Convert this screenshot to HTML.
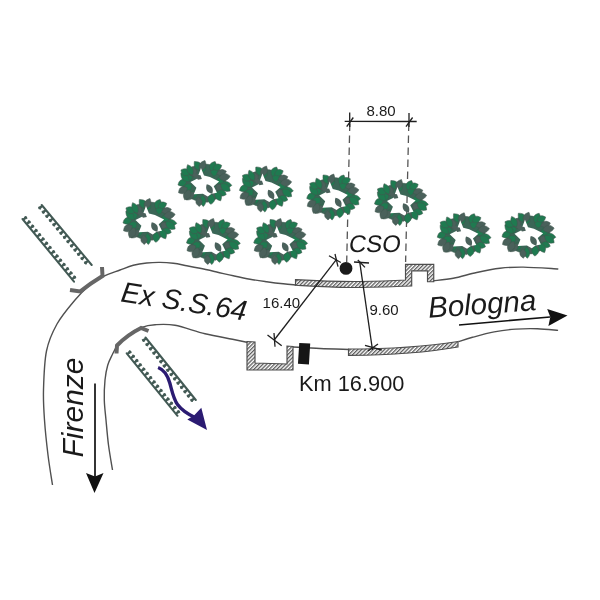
<!DOCTYPE html>
<html><head><meta charset="utf-8">
<style>
html,body{margin:0;padding:0;background:#fff;}
body{width:600px;height:600px;overflow:hidden;position:relative;}
svg{position:absolute;left:0;top:0;will-change:transform;}
text{font-family:"Liberation Sans", sans-serif;}
</style></head>
<body>
<svg width="600" height="600" viewBox="0 0 600 600">
<defs>
<pattern id="hatch" patternUnits="userSpaceOnUse" width="2.7" height="2.7" patternTransform="rotate(45)">
<rect width="2.7" height="2.7" fill="#fff"/>
<rect x="0" y="0" width="1.3" height="2.7" fill="#5c5c5c"/>
</pattern>
<mask id="treemask" maskUnits="userSpaceOnUse" x="-40" y="-40" width="80" height="80"><rect x="-40" y="-40" width="80" height="80" fill="#fff"/><path d="M-3.02,-15.12 L0,-7.56 L5.94,-5.94 L15.12,-1.62 L9.72,3.24 L12.96,9.72 L7.56,10.8 L3.78,13.5 L-1.08,10.8 L-10.26,11.34 L-7.56,4.86 L-13.5,-1.08 L-7.02,-4.32 Z" fill="#000"/></mask>

</defs>

<!-- road lines -->
<g fill="none" stroke="#505050" stroke-width="1.4">
<path d="M52.5,485 C51.75,480 49.33,465.83 48,455 C46.67,444.17 45.25,430.83 44.5,420 C43.75,409.17 43.17,401.5 43.5,390 C43.83,378.5 44.25,362 46.5,351 C48.75,340 52.25,332.5 57,324 C61.75,315.5 69.5,306.5 75,300 C80.5,293.5 85.33,288.92 90,285 C94.67,281.08 98,279 103,276.5 C108,274 114.95,271.87 120,270 C125.05,268.13 128.85,266.47 133.3,265.3 C137.75,264.13 142.25,263.48 146.7,263 C151.15,262.52 155.57,262.35 160,262.4 C164.43,262.45 168.85,262.75 173.3,263.3 C177.75,263.85 182.25,264.87 186.7,265.7 C191.15,266.53 195,267.25 200,268.3 C205,269.35 211.15,270.75 216.7,272 C222.25,273.25 227.75,274.6 233.3,275.8 C238.85,277 244.43,278.22 250,279.2 C255.57,280.18 261.15,280.93 266.7,281.7 C272.25,282.47 278.42,283.25 283.3,283.8 C288.18,284.35 293.88,284.8 296,285"/>
<path d="M433.5,280.7 C436.8,280.3 446.1,279.67 453.3,278.3 C460.5,276.93 468.92,274.17 476.7,272.5 C484.48,270.83 492.23,269.2 500,268.3 C507.77,267.4 513.58,266.98 523.3,267.1 C533.02,267.22 552.47,268.68 558.3,269"/>
<path d="M112.5,470 C111.83,465.83 109.58,453.33 108.5,445 C107.42,436.67 106.7,427.5 106,420 C105.3,412.5 104.47,406.67 104.3,400 C104.13,393.33 104.43,385.78 105,380 C105.57,374.22 106.48,369.52 107.7,365.3 C108.92,361.08 110.63,358.03 112.3,354.7 C113.97,351.37 115.03,348.63 117.7,345.3 C120.37,341.97 124.3,337.7 128.3,334.7 C132.3,331.7 137.25,328.97 141.7,327.3 C146.15,325.63 149.45,325.03 155,324.7 C160.55,324.37 166.67,323.78 175,325.3 C183.33,326.82 195.42,331.47 205,333.8 C214.58,336.13 225.33,337.85 232.5,339.3 C239.67,340.75 245.42,341.97 248,342.5"/>
<path d="M293,347 C297.5,347.25 310.67,348.08 320,348.5 C329.33,348.92 344.17,349.33 349,349.5"/>
<path d="M458.4,341.7 C460.75,340.97 466.53,338.93 472.5,337.3 C478.47,335.67 486.98,333.27 494.2,331.9 C501.42,330.53 508.58,329.63 515.8,329.1 C523.02,328.57 530.45,328.48 537.5,328.7 C544.55,328.92 554.67,330.12 558.1,330.4"/>
</g>

<!-- dashed dimension lines -->
<g stroke="#555" stroke-width="1.3" stroke-dasharray="7.5,4.5" fill="none">
<path d="M349.8,123.5 L346.7,262"/>
<path d="M408.8,123.5 L405.6,262"/>
</g>

<!-- trees -->
<g transform="translate(149 221)">
<g mask="url(#treemask)" stroke="#42584f" stroke-width="0.5" stroke-linejoin="round"><ellipse rx="22" ry="19" fill="#3a6656"/><path fill="#4a615b" transform="translate(16.01 5.01) rotate(39.46)" d="M-5,0 C-1.67,-5.04 1.67,-5.04 5,0 C1.67,5.04 -1.67,5.04 -5,0 Z"/><path fill="#4a615b" transform="translate(8.11 12.82) rotate(80.8)" d="M-5,0 C-1.67,-5.04 1.67,-5.04 5,0 C1.67,5.04 -1.67,5.04 -5,0 Z"/><path fill="#4a615b" transform="translate(2.4 14.42) rotate(79.15)" d="M-5,0 C-1.67,-5.04 1.67,-5.04 5,0 C1.67,5.04 -1.67,5.04 -5,0 Z"/><path fill="#1f7a50" transform="translate(-10.63 11.39) rotate(160.63)" d="M-5,0 C-1.67,-5.04 1.67,-5.04 5,0 C1.67,5.04 -1.67,5.04 -5,0 Z"/><path fill="#1f7a50" transform="translate(-16.17 4.63) rotate(141.19)" d="M-5,0 C-1.67,-5.04 1.67,-5.04 5,0 C1.67,5.04 -1.67,5.04 -5,0 Z"/><path fill="#1f7a50" transform="translate(-16.09 -4.81) rotate(160.32)" d="M-5,0 C-1.67,-5.04 1.67,-5.04 5,0 C1.67,5.04 -1.67,5.04 -5,0 Z"/><path fill="#4a615b" transform="translate(-10.91 -11.2) rotate(263.52)" d="M-5,0 C-1.67,-5.04 1.67,-5.04 5,0 C1.67,5.04 -1.67,5.04 -5,0 Z"/><path fill="#1f7a50" transform="translate(-1.74 -14.49) rotate(287.92)" d="M-5,0 C-1.67,-5.04 1.67,-5.04 5,0 C1.67,5.04 -1.67,5.04 -5,0 Z"/><path fill="#1f7a50" transform="translate(10.5 -11.48) rotate(278.15)" d="M-5,0 C-1.67,-5.04 1.67,-5.04 5,0 C1.67,5.04 -1.67,5.04 -5,0 Z"/><path fill="#1f7a50" transform="translate(16.7 -2.93) rotate(325.14)" d="M-5,0 C-1.67,-5.04 1.67,-5.04 5,0 C1.67,5.04 -1.67,5.04 -5,0 Z"/><path fill="#1f7a50" transform="translate(22.06 1.74) rotate(7.08)" d="M-5.81,0 C-1.94,-4.27 1.94,-4.27 5.81,0 C1.94,4.27 -1.94,4.27 -5.81,0 Z"/><path fill="#1f7a50" transform="translate(21.36 4.54) rotate(36.19)" d="M-5.91,0 C-1.97,-4.71 1.97,-4.71 5.91,0 C1.97,4.71 -1.97,4.71 -5.91,0 Z"/><path fill="#1f7a50" transform="translate(17.74 9.99) rotate(18.42)" d="M-4.75,0 C-1.58,-4.12 1.58,-4.12 4.75,0 C1.58,4.12 -1.58,4.12 -4.75,0 Z"/><path fill="#1f7a50" transform="translate(14.1 12.93) rotate(62.92)" d="M-5.52,0 C-1.84,-4.32 1.84,-4.32 5.52,0 C1.84,4.32 -1.84,4.32 -5.52,0 Z"/><path fill="#1f7a50" transform="translate(7.23 16.15) rotate(95.31)" d="M-5.22,0 C-1.74,-4.72 1.74,-4.72 5.22,0 C1.74,4.72 -1.74,4.72 -5.22,0 Z"/><path fill="#1f7a50" transform="translate(-1.09 17.83) rotate(85.32)" d="M-5.77,0 C-1.92,-3.98 1.92,-3.98 5.77,0 C1.92,3.98 -1.92,3.98 -5.77,0 Z"/><path fill="#4a615b" transform="translate(-5.01 18.88) rotate(86.19)" d="M-4.57,0 C-1.52,-4.16 1.52,-4.16 4.57,0 C1.52,4.16 -1.52,4.16 -4.57,0 Z"/><path fill="#4a615b" transform="translate(-13.69 12.84) rotate(136.89)" d="M-5.91,0 C-1.97,-4.33 1.97,-4.33 5.91,0 C1.97,4.33 -1.97,4.33 -5.91,0 Z"/><path fill="#4a615b" transform="translate(-16.85 11.76) rotate(116.08)" d="M-5.62,0 C-1.87,-4.82 1.87,-4.82 5.62,0 C1.87,4.82 -1.87,4.82 -5.62,0 Z"/><path fill="#4a615b" transform="translate(-21.11 7.26) rotate(150.74)" d="M-5.01,0 C-1.67,-4.62 1.67,-4.62 5.01,0 C1.67,4.62 -1.67,4.62 -5.01,0 Z"/><path fill="#1f7a50" transform="translate(-21.5 -0.16) rotate(-204.87)" d="M-4.97,0 C-1.66,-4.3 1.66,-4.3 4.97,0 C1.66,4.3 -1.66,4.3 -4.97,0 Z"/><path fill="#1f7a50" transform="translate(-18.98 -5.66) rotate(-133.37)" d="M-6,0 C-2,-4.13 2,-4.13 6,0 C2,4.13 -2,4.13 -6,0 Z"/><path fill="#1f7a50" transform="translate(-18.74 -10.78) rotate(-151.84)" d="M-4.86,0 C-1.62,-4.6 1.62,-4.6 4.86,0 C1.62,4.6 -1.62,4.6 -4.86,0 Z"/><path fill="#1f7a50" transform="translate(-13.93 -13.01) rotate(-115.28)" d="M-5.87,0 C-1.96,-4 1.96,-4 5.87,0 C1.96,4 -1.96,4 -5.87,0 Z"/><path fill="#1f7a50" transform="translate(-5.75 -17.07) rotate(-131.41)" d="M-5.92,0 C-1.97,-4.64 1.97,-4.64 5.92,0 C1.97,4.64 -1.97,4.64 -5.92,0 Z"/><path fill="#4a615b" transform="translate(-1.49 -17.26) rotate(-64.74)" d="M-5.77,0 C-1.92,-4.28 1.92,-4.28 5.77,0 C1.92,4.28 -1.92,4.28 -5.77,0 Z"/><path fill="#1f7a50" transform="translate(8.9 -16.83) rotate(-64.34)" d="M-5.18,0 C-1.73,-4.49 1.73,-4.49 5.18,0 C1.73,4.49 -1.73,4.49 -5.18,0 Z"/><path fill="#1f7a50" transform="translate(13.33 -15.77) rotate(-23.19)" d="M-4.72,0 C-1.57,-4.37 1.57,-4.37 4.72,0 C1.57,4.37 -1.57,4.37 -4.72,0 Z"/><path fill="#4a615b" transform="translate(17.51 -10.44) rotate(-14.92)" d="M-5.01,0 C-1.67,-4.06 1.67,-4.06 5.01,0 C1.67,4.06 -1.67,4.06 -5.01,0 Z"/><path fill="#4a615b" transform="translate(20.52 -5.96) rotate(-7.07)" d="M-5.68,0 C-1.89,-4.8 1.89,-4.8 5.68,0 C1.89,4.8 -1.89,4.8 -5.68,0 Z"/></g>
<path fill="#4a615b" transform="translate(-6.5 -6.5) rotate(30)" d="M-5,0 L-2,-2.5 L0,-1.8 L2,-2.5 L5,0 L2,2.5 L0,1.8 L-2,2.5 Z"/>
<path fill="#4a615b" transform="translate(5.5 6) rotate(60)" d="M-5.5,0 C-2,-4 2,-4 5.5,0 C2,4 -2,4 -5.5,0 Z"/>
</g>
<g transform="translate(204 183)">
<g mask="url(#treemask)" stroke="#42584f" stroke-width="0.5" stroke-linejoin="round"><ellipse rx="22" ry="19" fill="#3a6656"/><path fill="#4a615b" transform="translate(16.01 5.01) rotate(39.46)" d="M-5,0 C-1.67,-5.04 1.67,-5.04 5,0 C1.67,5.04 -1.67,5.04 -5,0 Z"/><path fill="#4a615b" transform="translate(8.11 12.82) rotate(80.8)" d="M-5,0 C-1.67,-5.04 1.67,-5.04 5,0 C1.67,5.04 -1.67,5.04 -5,0 Z"/><path fill="#4a615b" transform="translate(2.4 14.42) rotate(79.15)" d="M-5,0 C-1.67,-5.04 1.67,-5.04 5,0 C1.67,5.04 -1.67,5.04 -5,0 Z"/><path fill="#1f7a50" transform="translate(-10.63 11.39) rotate(160.63)" d="M-5,0 C-1.67,-5.04 1.67,-5.04 5,0 C1.67,5.04 -1.67,5.04 -5,0 Z"/><path fill="#1f7a50" transform="translate(-16.17 4.63) rotate(141.19)" d="M-5,0 C-1.67,-5.04 1.67,-5.04 5,0 C1.67,5.04 -1.67,5.04 -5,0 Z"/><path fill="#1f7a50" transform="translate(-16.09 -4.81) rotate(160.32)" d="M-5,0 C-1.67,-5.04 1.67,-5.04 5,0 C1.67,5.04 -1.67,5.04 -5,0 Z"/><path fill="#4a615b" transform="translate(-10.91 -11.2) rotate(263.52)" d="M-5,0 C-1.67,-5.04 1.67,-5.04 5,0 C1.67,5.04 -1.67,5.04 -5,0 Z"/><path fill="#1f7a50" transform="translate(-1.74 -14.49) rotate(287.92)" d="M-5,0 C-1.67,-5.04 1.67,-5.04 5,0 C1.67,5.04 -1.67,5.04 -5,0 Z"/><path fill="#1f7a50" transform="translate(10.5 -11.48) rotate(278.15)" d="M-5,0 C-1.67,-5.04 1.67,-5.04 5,0 C1.67,5.04 -1.67,5.04 -5,0 Z"/><path fill="#1f7a50" transform="translate(16.7 -2.93) rotate(325.14)" d="M-5,0 C-1.67,-5.04 1.67,-5.04 5,0 C1.67,5.04 -1.67,5.04 -5,0 Z"/><path fill="#1f7a50" transform="translate(22.06 1.74) rotate(7.08)" d="M-5.81,0 C-1.94,-4.27 1.94,-4.27 5.81,0 C1.94,4.27 -1.94,4.27 -5.81,0 Z"/><path fill="#1f7a50" transform="translate(21.36 4.54) rotate(36.19)" d="M-5.91,0 C-1.97,-4.71 1.97,-4.71 5.91,0 C1.97,4.71 -1.97,4.71 -5.91,0 Z"/><path fill="#1f7a50" transform="translate(17.74 9.99) rotate(18.42)" d="M-4.75,0 C-1.58,-4.12 1.58,-4.12 4.75,0 C1.58,4.12 -1.58,4.12 -4.75,0 Z"/><path fill="#1f7a50" transform="translate(14.1 12.93) rotate(62.92)" d="M-5.52,0 C-1.84,-4.32 1.84,-4.32 5.52,0 C1.84,4.32 -1.84,4.32 -5.52,0 Z"/><path fill="#1f7a50" transform="translate(7.23 16.15) rotate(95.31)" d="M-5.22,0 C-1.74,-4.72 1.74,-4.72 5.22,0 C1.74,4.72 -1.74,4.72 -5.22,0 Z"/><path fill="#1f7a50" transform="translate(-1.09 17.83) rotate(85.32)" d="M-5.77,0 C-1.92,-3.98 1.92,-3.98 5.77,0 C1.92,3.98 -1.92,3.98 -5.77,0 Z"/><path fill="#4a615b" transform="translate(-5.01 18.88) rotate(86.19)" d="M-4.57,0 C-1.52,-4.16 1.52,-4.16 4.57,0 C1.52,4.16 -1.52,4.16 -4.57,0 Z"/><path fill="#4a615b" transform="translate(-13.69 12.84) rotate(136.89)" d="M-5.91,0 C-1.97,-4.33 1.97,-4.33 5.91,0 C1.97,4.33 -1.97,4.33 -5.91,0 Z"/><path fill="#4a615b" transform="translate(-16.85 11.76) rotate(116.08)" d="M-5.62,0 C-1.87,-4.82 1.87,-4.82 5.62,0 C1.87,4.82 -1.87,4.82 -5.62,0 Z"/><path fill="#4a615b" transform="translate(-21.11 7.26) rotate(150.74)" d="M-5.01,0 C-1.67,-4.62 1.67,-4.62 5.01,0 C1.67,4.62 -1.67,4.62 -5.01,0 Z"/><path fill="#1f7a50" transform="translate(-21.5 -0.16) rotate(-204.87)" d="M-4.97,0 C-1.66,-4.3 1.66,-4.3 4.97,0 C1.66,4.3 -1.66,4.3 -4.97,0 Z"/><path fill="#1f7a50" transform="translate(-18.98 -5.66) rotate(-133.37)" d="M-6,0 C-2,-4.13 2,-4.13 6,0 C2,4.13 -2,4.13 -6,0 Z"/><path fill="#1f7a50" transform="translate(-18.74 -10.78) rotate(-151.84)" d="M-4.86,0 C-1.62,-4.6 1.62,-4.6 4.86,0 C1.62,4.6 -1.62,4.6 -4.86,0 Z"/><path fill="#1f7a50" transform="translate(-13.93 -13.01) rotate(-115.28)" d="M-5.87,0 C-1.96,-4 1.96,-4 5.87,0 C1.96,4 -1.96,4 -5.87,0 Z"/><path fill="#1f7a50" transform="translate(-5.75 -17.07) rotate(-131.41)" d="M-5.92,0 C-1.97,-4.64 1.97,-4.64 5.92,0 C1.97,4.64 -1.97,4.64 -5.92,0 Z"/><path fill="#4a615b" transform="translate(-1.49 -17.26) rotate(-64.74)" d="M-5.77,0 C-1.92,-4.28 1.92,-4.28 5.77,0 C1.92,4.28 -1.92,4.28 -5.77,0 Z"/><path fill="#1f7a50" transform="translate(8.9 -16.83) rotate(-64.34)" d="M-5.18,0 C-1.73,-4.49 1.73,-4.49 5.18,0 C1.73,4.49 -1.73,4.49 -5.18,0 Z"/><path fill="#1f7a50" transform="translate(13.33 -15.77) rotate(-23.19)" d="M-4.72,0 C-1.57,-4.37 1.57,-4.37 4.72,0 C1.57,4.37 -1.57,4.37 -4.72,0 Z"/><path fill="#4a615b" transform="translate(17.51 -10.44) rotate(-14.92)" d="M-5.01,0 C-1.67,-4.06 1.67,-4.06 5.01,0 C1.67,4.06 -1.67,4.06 -5.01,0 Z"/><path fill="#4a615b" transform="translate(20.52 -5.96) rotate(-7.07)" d="M-5.68,0 C-1.89,-4.8 1.89,-4.8 5.68,0 C1.89,4.8 -1.89,4.8 -5.68,0 Z"/></g>
<path fill="#4a615b" transform="translate(-6.5 -6.5) rotate(30)" d="M-5,0 L-2,-2.5 L0,-1.8 L2,-2.5 L5,0 L2,2.5 L0,1.8 L-2,2.5 Z"/>
<path fill="#4a615b" transform="translate(5.5 6) rotate(60)" d="M-5.5,0 C-2,-4 2,-4 5.5,0 C2,4 -2,4 -5.5,0 Z"/>
</g>
<g transform="translate(265.5 188.5)">
<g mask="url(#treemask)" stroke="#42584f" stroke-width="0.5" stroke-linejoin="round"><ellipse rx="22" ry="19" fill="#3a6656"/><path fill="#4a615b" transform="translate(16.01 5.01) rotate(39.46)" d="M-5,0 C-1.67,-5.04 1.67,-5.04 5,0 C1.67,5.04 -1.67,5.04 -5,0 Z"/><path fill="#4a615b" transform="translate(8.11 12.82) rotate(80.8)" d="M-5,0 C-1.67,-5.04 1.67,-5.04 5,0 C1.67,5.04 -1.67,5.04 -5,0 Z"/><path fill="#4a615b" transform="translate(2.4 14.42) rotate(79.15)" d="M-5,0 C-1.67,-5.04 1.67,-5.04 5,0 C1.67,5.04 -1.67,5.04 -5,0 Z"/><path fill="#1f7a50" transform="translate(-10.63 11.39) rotate(160.63)" d="M-5,0 C-1.67,-5.04 1.67,-5.04 5,0 C1.67,5.04 -1.67,5.04 -5,0 Z"/><path fill="#1f7a50" transform="translate(-16.17 4.63) rotate(141.19)" d="M-5,0 C-1.67,-5.04 1.67,-5.04 5,0 C1.67,5.04 -1.67,5.04 -5,0 Z"/><path fill="#1f7a50" transform="translate(-16.09 -4.81) rotate(160.32)" d="M-5,0 C-1.67,-5.04 1.67,-5.04 5,0 C1.67,5.04 -1.67,5.04 -5,0 Z"/><path fill="#4a615b" transform="translate(-10.91 -11.2) rotate(263.52)" d="M-5,0 C-1.67,-5.04 1.67,-5.04 5,0 C1.67,5.04 -1.67,5.04 -5,0 Z"/><path fill="#1f7a50" transform="translate(-1.74 -14.49) rotate(287.92)" d="M-5,0 C-1.67,-5.04 1.67,-5.04 5,0 C1.67,5.04 -1.67,5.04 -5,0 Z"/><path fill="#1f7a50" transform="translate(10.5 -11.48) rotate(278.15)" d="M-5,0 C-1.67,-5.04 1.67,-5.04 5,0 C1.67,5.04 -1.67,5.04 -5,0 Z"/><path fill="#1f7a50" transform="translate(16.7 -2.93) rotate(325.14)" d="M-5,0 C-1.67,-5.04 1.67,-5.04 5,0 C1.67,5.04 -1.67,5.04 -5,0 Z"/><path fill="#1f7a50" transform="translate(22.06 1.74) rotate(7.08)" d="M-5.81,0 C-1.94,-4.27 1.94,-4.27 5.81,0 C1.94,4.27 -1.94,4.27 -5.81,0 Z"/><path fill="#1f7a50" transform="translate(21.36 4.54) rotate(36.19)" d="M-5.91,0 C-1.97,-4.71 1.97,-4.71 5.91,0 C1.97,4.71 -1.97,4.71 -5.91,0 Z"/><path fill="#1f7a50" transform="translate(17.74 9.99) rotate(18.42)" d="M-4.75,0 C-1.58,-4.12 1.58,-4.12 4.75,0 C1.58,4.12 -1.58,4.12 -4.75,0 Z"/><path fill="#1f7a50" transform="translate(14.1 12.93) rotate(62.92)" d="M-5.52,0 C-1.84,-4.32 1.84,-4.32 5.52,0 C1.84,4.32 -1.84,4.32 -5.52,0 Z"/><path fill="#1f7a50" transform="translate(7.23 16.15) rotate(95.31)" d="M-5.22,0 C-1.74,-4.72 1.74,-4.72 5.22,0 C1.74,4.72 -1.74,4.72 -5.22,0 Z"/><path fill="#1f7a50" transform="translate(-1.09 17.83) rotate(85.32)" d="M-5.77,0 C-1.92,-3.98 1.92,-3.98 5.77,0 C1.92,3.98 -1.92,3.98 -5.77,0 Z"/><path fill="#4a615b" transform="translate(-5.01 18.88) rotate(86.19)" d="M-4.57,0 C-1.52,-4.16 1.52,-4.16 4.57,0 C1.52,4.16 -1.52,4.16 -4.57,0 Z"/><path fill="#4a615b" transform="translate(-13.69 12.84) rotate(136.89)" d="M-5.91,0 C-1.97,-4.33 1.97,-4.33 5.91,0 C1.97,4.33 -1.97,4.33 -5.91,0 Z"/><path fill="#4a615b" transform="translate(-16.85 11.76) rotate(116.08)" d="M-5.62,0 C-1.87,-4.82 1.87,-4.82 5.62,0 C1.87,4.82 -1.87,4.82 -5.62,0 Z"/><path fill="#4a615b" transform="translate(-21.11 7.26) rotate(150.74)" d="M-5.01,0 C-1.67,-4.62 1.67,-4.62 5.01,0 C1.67,4.62 -1.67,4.62 -5.01,0 Z"/><path fill="#1f7a50" transform="translate(-21.5 -0.16) rotate(-204.87)" d="M-4.97,0 C-1.66,-4.3 1.66,-4.3 4.97,0 C1.66,4.3 -1.66,4.3 -4.97,0 Z"/><path fill="#1f7a50" transform="translate(-18.98 -5.66) rotate(-133.37)" d="M-6,0 C-2,-4.13 2,-4.13 6,0 C2,4.13 -2,4.13 -6,0 Z"/><path fill="#1f7a50" transform="translate(-18.74 -10.78) rotate(-151.84)" d="M-4.86,0 C-1.62,-4.6 1.62,-4.6 4.86,0 C1.62,4.6 -1.62,4.6 -4.86,0 Z"/><path fill="#1f7a50" transform="translate(-13.93 -13.01) rotate(-115.28)" d="M-5.87,0 C-1.96,-4 1.96,-4 5.87,0 C1.96,4 -1.96,4 -5.87,0 Z"/><path fill="#1f7a50" transform="translate(-5.75 -17.07) rotate(-131.41)" d="M-5.92,0 C-1.97,-4.64 1.97,-4.64 5.92,0 C1.97,4.64 -1.97,4.64 -5.92,0 Z"/><path fill="#4a615b" transform="translate(-1.49 -17.26) rotate(-64.74)" d="M-5.77,0 C-1.92,-4.28 1.92,-4.28 5.77,0 C1.92,4.28 -1.92,4.28 -5.77,0 Z"/><path fill="#1f7a50" transform="translate(8.9 -16.83) rotate(-64.34)" d="M-5.18,0 C-1.73,-4.49 1.73,-4.49 5.18,0 C1.73,4.49 -1.73,4.49 -5.18,0 Z"/><path fill="#1f7a50" transform="translate(13.33 -15.77) rotate(-23.19)" d="M-4.72,0 C-1.57,-4.37 1.57,-4.37 4.72,0 C1.57,4.37 -1.57,4.37 -4.72,0 Z"/><path fill="#4a615b" transform="translate(17.51 -10.44) rotate(-14.92)" d="M-5.01,0 C-1.67,-4.06 1.67,-4.06 5.01,0 C1.67,4.06 -1.67,4.06 -5.01,0 Z"/><path fill="#4a615b" transform="translate(20.52 -5.96) rotate(-7.07)" d="M-5.68,0 C-1.89,-4.8 1.89,-4.8 5.68,0 C1.89,4.8 -1.89,4.8 -5.68,0 Z"/></g>
<path fill="#4a615b" transform="translate(-6.5 -6.5) rotate(30)" d="M-5,0 L-2,-2.5 L0,-1.8 L2,-2.5 L5,0 L2,2.5 L0,1.8 L-2,2.5 Z"/>
<path fill="#4a615b" transform="translate(5.5 6) rotate(60)" d="M-5.5,0 C-2,-4 2,-4 5.5,0 C2,4 -2,4 -5.5,0 Z"/>
</g>
<g transform="translate(332.75 196.5)">
<g mask="url(#treemask)" stroke="#42584f" stroke-width="0.5" stroke-linejoin="round"><ellipse rx="22" ry="19" fill="#3a6656"/><path fill="#4a615b" transform="translate(16.01 5.01) rotate(39.46)" d="M-5,0 C-1.67,-5.04 1.67,-5.04 5,0 C1.67,5.04 -1.67,5.04 -5,0 Z"/><path fill="#4a615b" transform="translate(8.11 12.82) rotate(80.8)" d="M-5,0 C-1.67,-5.04 1.67,-5.04 5,0 C1.67,5.04 -1.67,5.04 -5,0 Z"/><path fill="#4a615b" transform="translate(2.4 14.42) rotate(79.15)" d="M-5,0 C-1.67,-5.04 1.67,-5.04 5,0 C1.67,5.04 -1.67,5.04 -5,0 Z"/><path fill="#1f7a50" transform="translate(-10.63 11.39) rotate(160.63)" d="M-5,0 C-1.67,-5.04 1.67,-5.04 5,0 C1.67,5.04 -1.67,5.04 -5,0 Z"/><path fill="#1f7a50" transform="translate(-16.17 4.63) rotate(141.19)" d="M-5,0 C-1.67,-5.04 1.67,-5.04 5,0 C1.67,5.04 -1.67,5.04 -5,0 Z"/><path fill="#1f7a50" transform="translate(-16.09 -4.81) rotate(160.32)" d="M-5,0 C-1.67,-5.04 1.67,-5.04 5,0 C1.67,5.04 -1.67,5.04 -5,0 Z"/><path fill="#4a615b" transform="translate(-10.91 -11.2) rotate(263.52)" d="M-5,0 C-1.67,-5.04 1.67,-5.04 5,0 C1.67,5.04 -1.67,5.04 -5,0 Z"/><path fill="#1f7a50" transform="translate(-1.74 -14.49) rotate(287.92)" d="M-5,0 C-1.67,-5.04 1.67,-5.04 5,0 C1.67,5.04 -1.67,5.04 -5,0 Z"/><path fill="#1f7a50" transform="translate(10.5 -11.48) rotate(278.15)" d="M-5,0 C-1.67,-5.04 1.67,-5.04 5,0 C1.67,5.04 -1.67,5.04 -5,0 Z"/><path fill="#1f7a50" transform="translate(16.7 -2.93) rotate(325.14)" d="M-5,0 C-1.67,-5.04 1.67,-5.04 5,0 C1.67,5.04 -1.67,5.04 -5,0 Z"/><path fill="#1f7a50" transform="translate(22.06 1.74) rotate(7.08)" d="M-5.81,0 C-1.94,-4.27 1.94,-4.27 5.81,0 C1.94,4.27 -1.94,4.27 -5.81,0 Z"/><path fill="#1f7a50" transform="translate(21.36 4.54) rotate(36.19)" d="M-5.91,0 C-1.97,-4.71 1.97,-4.71 5.91,0 C1.97,4.71 -1.97,4.71 -5.91,0 Z"/><path fill="#1f7a50" transform="translate(17.74 9.99) rotate(18.42)" d="M-4.75,0 C-1.58,-4.12 1.58,-4.12 4.75,0 C1.58,4.12 -1.58,4.12 -4.75,0 Z"/><path fill="#1f7a50" transform="translate(14.1 12.93) rotate(62.92)" d="M-5.52,0 C-1.84,-4.32 1.84,-4.32 5.52,0 C1.84,4.32 -1.84,4.32 -5.52,0 Z"/><path fill="#1f7a50" transform="translate(7.23 16.15) rotate(95.31)" d="M-5.22,0 C-1.74,-4.72 1.74,-4.72 5.22,0 C1.74,4.72 -1.74,4.72 -5.22,0 Z"/><path fill="#1f7a50" transform="translate(-1.09 17.83) rotate(85.32)" d="M-5.77,0 C-1.92,-3.98 1.92,-3.98 5.77,0 C1.92,3.98 -1.92,3.98 -5.77,0 Z"/><path fill="#4a615b" transform="translate(-5.01 18.88) rotate(86.19)" d="M-4.57,0 C-1.52,-4.16 1.52,-4.16 4.57,0 C1.52,4.16 -1.52,4.16 -4.57,0 Z"/><path fill="#4a615b" transform="translate(-13.69 12.84) rotate(136.89)" d="M-5.91,0 C-1.97,-4.33 1.97,-4.33 5.91,0 C1.97,4.33 -1.97,4.33 -5.91,0 Z"/><path fill="#4a615b" transform="translate(-16.85 11.76) rotate(116.08)" d="M-5.62,0 C-1.87,-4.82 1.87,-4.82 5.62,0 C1.87,4.82 -1.87,4.82 -5.62,0 Z"/><path fill="#4a615b" transform="translate(-21.11 7.26) rotate(150.74)" d="M-5.01,0 C-1.67,-4.62 1.67,-4.62 5.01,0 C1.67,4.62 -1.67,4.62 -5.01,0 Z"/><path fill="#1f7a50" transform="translate(-21.5 -0.16) rotate(-204.87)" d="M-4.97,0 C-1.66,-4.3 1.66,-4.3 4.97,0 C1.66,4.3 -1.66,4.3 -4.97,0 Z"/><path fill="#1f7a50" transform="translate(-18.98 -5.66) rotate(-133.37)" d="M-6,0 C-2,-4.13 2,-4.13 6,0 C2,4.13 -2,4.13 -6,0 Z"/><path fill="#1f7a50" transform="translate(-18.74 -10.78) rotate(-151.84)" d="M-4.86,0 C-1.62,-4.6 1.62,-4.6 4.86,0 C1.62,4.6 -1.62,4.6 -4.86,0 Z"/><path fill="#1f7a50" transform="translate(-13.93 -13.01) rotate(-115.28)" d="M-5.87,0 C-1.96,-4 1.96,-4 5.87,0 C1.96,4 -1.96,4 -5.87,0 Z"/><path fill="#1f7a50" transform="translate(-5.75 -17.07) rotate(-131.41)" d="M-5.92,0 C-1.97,-4.64 1.97,-4.64 5.92,0 C1.97,4.64 -1.97,4.64 -5.92,0 Z"/><path fill="#4a615b" transform="translate(-1.49 -17.26) rotate(-64.74)" d="M-5.77,0 C-1.92,-4.28 1.92,-4.28 5.77,0 C1.92,4.28 -1.92,4.28 -5.77,0 Z"/><path fill="#1f7a50" transform="translate(8.9 -16.83) rotate(-64.34)" d="M-5.18,0 C-1.73,-4.49 1.73,-4.49 5.18,0 C1.73,4.49 -1.73,4.49 -5.18,0 Z"/><path fill="#1f7a50" transform="translate(13.33 -15.77) rotate(-23.19)" d="M-4.72,0 C-1.57,-4.37 1.57,-4.37 4.72,0 C1.57,4.37 -1.57,4.37 -4.72,0 Z"/><path fill="#4a615b" transform="translate(17.51 -10.44) rotate(-14.92)" d="M-5.01,0 C-1.67,-4.06 1.67,-4.06 5.01,0 C1.67,4.06 -1.67,4.06 -5.01,0 Z"/><path fill="#4a615b" transform="translate(20.52 -5.96) rotate(-7.07)" d="M-5.68,0 C-1.89,-4.8 1.89,-4.8 5.68,0 C1.89,4.8 -1.89,4.8 -5.68,0 Z"/></g>
<path fill="#4a615b" transform="translate(-6.5 -6.5) rotate(30)" d="M-5,0 L-2,-2.5 L0,-1.8 L2,-2.5 L5,0 L2,2.5 L0,1.8 L-2,2.5 Z"/>
<path fill="#4a615b" transform="translate(5.5 6) rotate(60)" d="M-5.5,0 C-2,-4 2,-4 5.5,0 C2,4 -2,4 -5.5,0 Z"/>
</g>
<g transform="translate(400.5 202)">
<g mask="url(#treemask)" stroke="#42584f" stroke-width="0.5" stroke-linejoin="round"><ellipse rx="22" ry="19" fill="#3a6656"/><path fill="#4a615b" transform="translate(16.01 5.01) rotate(39.46)" d="M-5,0 C-1.67,-5.04 1.67,-5.04 5,0 C1.67,5.04 -1.67,5.04 -5,0 Z"/><path fill="#4a615b" transform="translate(8.11 12.82) rotate(80.8)" d="M-5,0 C-1.67,-5.04 1.67,-5.04 5,0 C1.67,5.04 -1.67,5.04 -5,0 Z"/><path fill="#4a615b" transform="translate(2.4 14.42) rotate(79.15)" d="M-5,0 C-1.67,-5.04 1.67,-5.04 5,0 C1.67,5.04 -1.67,5.04 -5,0 Z"/><path fill="#1f7a50" transform="translate(-10.63 11.39) rotate(160.63)" d="M-5,0 C-1.67,-5.04 1.67,-5.04 5,0 C1.67,5.04 -1.67,5.04 -5,0 Z"/><path fill="#1f7a50" transform="translate(-16.17 4.63) rotate(141.19)" d="M-5,0 C-1.67,-5.04 1.67,-5.04 5,0 C1.67,5.04 -1.67,5.04 -5,0 Z"/><path fill="#1f7a50" transform="translate(-16.09 -4.81) rotate(160.32)" d="M-5,0 C-1.67,-5.04 1.67,-5.04 5,0 C1.67,5.04 -1.67,5.04 -5,0 Z"/><path fill="#4a615b" transform="translate(-10.91 -11.2) rotate(263.52)" d="M-5,0 C-1.67,-5.04 1.67,-5.04 5,0 C1.67,5.04 -1.67,5.04 -5,0 Z"/><path fill="#1f7a50" transform="translate(-1.74 -14.49) rotate(287.92)" d="M-5,0 C-1.67,-5.04 1.67,-5.04 5,0 C1.67,5.04 -1.67,5.04 -5,0 Z"/><path fill="#1f7a50" transform="translate(10.5 -11.48) rotate(278.15)" d="M-5,0 C-1.67,-5.04 1.67,-5.04 5,0 C1.67,5.04 -1.67,5.04 -5,0 Z"/><path fill="#1f7a50" transform="translate(16.7 -2.93) rotate(325.14)" d="M-5,0 C-1.67,-5.04 1.67,-5.04 5,0 C1.67,5.04 -1.67,5.04 -5,0 Z"/><path fill="#1f7a50" transform="translate(22.06 1.74) rotate(7.08)" d="M-5.81,0 C-1.94,-4.27 1.94,-4.27 5.81,0 C1.94,4.27 -1.94,4.27 -5.81,0 Z"/><path fill="#1f7a50" transform="translate(21.36 4.54) rotate(36.19)" d="M-5.91,0 C-1.97,-4.71 1.97,-4.71 5.91,0 C1.97,4.71 -1.97,4.71 -5.91,0 Z"/><path fill="#1f7a50" transform="translate(17.74 9.99) rotate(18.42)" d="M-4.75,0 C-1.58,-4.12 1.58,-4.12 4.75,0 C1.58,4.12 -1.58,4.12 -4.75,0 Z"/><path fill="#1f7a50" transform="translate(14.1 12.93) rotate(62.92)" d="M-5.52,0 C-1.84,-4.32 1.84,-4.32 5.52,0 C1.84,4.32 -1.84,4.32 -5.52,0 Z"/><path fill="#1f7a50" transform="translate(7.23 16.15) rotate(95.31)" d="M-5.22,0 C-1.74,-4.72 1.74,-4.72 5.22,0 C1.74,4.72 -1.74,4.72 -5.22,0 Z"/><path fill="#1f7a50" transform="translate(-1.09 17.83) rotate(85.32)" d="M-5.77,0 C-1.92,-3.98 1.92,-3.98 5.77,0 C1.92,3.98 -1.92,3.98 -5.77,0 Z"/><path fill="#4a615b" transform="translate(-5.01 18.88) rotate(86.19)" d="M-4.57,0 C-1.52,-4.16 1.52,-4.16 4.57,0 C1.52,4.16 -1.52,4.16 -4.57,0 Z"/><path fill="#4a615b" transform="translate(-13.69 12.84) rotate(136.89)" d="M-5.91,0 C-1.97,-4.33 1.97,-4.33 5.91,0 C1.97,4.33 -1.97,4.33 -5.91,0 Z"/><path fill="#4a615b" transform="translate(-16.85 11.76) rotate(116.08)" d="M-5.62,0 C-1.87,-4.82 1.87,-4.82 5.62,0 C1.87,4.82 -1.87,4.82 -5.62,0 Z"/><path fill="#4a615b" transform="translate(-21.11 7.26) rotate(150.74)" d="M-5.01,0 C-1.67,-4.62 1.67,-4.62 5.01,0 C1.67,4.62 -1.67,4.62 -5.01,0 Z"/><path fill="#1f7a50" transform="translate(-21.5 -0.16) rotate(-204.87)" d="M-4.97,0 C-1.66,-4.3 1.66,-4.3 4.97,0 C1.66,4.3 -1.66,4.3 -4.97,0 Z"/><path fill="#1f7a50" transform="translate(-18.98 -5.66) rotate(-133.37)" d="M-6,0 C-2,-4.13 2,-4.13 6,0 C2,4.13 -2,4.13 -6,0 Z"/><path fill="#1f7a50" transform="translate(-18.74 -10.78) rotate(-151.84)" d="M-4.86,0 C-1.62,-4.6 1.62,-4.6 4.86,0 C1.62,4.6 -1.62,4.6 -4.86,0 Z"/><path fill="#1f7a50" transform="translate(-13.93 -13.01) rotate(-115.28)" d="M-5.87,0 C-1.96,-4 1.96,-4 5.87,0 C1.96,4 -1.96,4 -5.87,0 Z"/><path fill="#1f7a50" transform="translate(-5.75 -17.07) rotate(-131.41)" d="M-5.92,0 C-1.97,-4.64 1.97,-4.64 5.92,0 C1.97,4.64 -1.97,4.64 -5.92,0 Z"/><path fill="#4a615b" transform="translate(-1.49 -17.26) rotate(-64.74)" d="M-5.77,0 C-1.92,-4.28 1.92,-4.28 5.77,0 C1.92,4.28 -1.92,4.28 -5.77,0 Z"/><path fill="#1f7a50" transform="translate(8.9 -16.83) rotate(-64.34)" d="M-5.18,0 C-1.73,-4.49 1.73,-4.49 5.18,0 C1.73,4.49 -1.73,4.49 -5.18,0 Z"/><path fill="#1f7a50" transform="translate(13.33 -15.77) rotate(-23.19)" d="M-4.72,0 C-1.57,-4.37 1.57,-4.37 4.72,0 C1.57,4.37 -1.57,4.37 -4.72,0 Z"/><path fill="#4a615b" transform="translate(17.51 -10.44) rotate(-14.92)" d="M-5.01,0 C-1.67,-4.06 1.67,-4.06 5.01,0 C1.67,4.06 -1.67,4.06 -5.01,0 Z"/><path fill="#4a615b" transform="translate(20.52 -5.96) rotate(-7.07)" d="M-5.68,0 C-1.89,-4.8 1.89,-4.8 5.68,0 C1.89,4.8 -1.89,4.8 -5.68,0 Z"/></g>
<path fill="#4a615b" transform="translate(-6.5 -6.5) rotate(30)" d="M-5,0 L-2,-2.5 L0,-1.8 L2,-2.5 L5,0 L2,2.5 L0,1.8 L-2,2.5 Z"/>
<path fill="#4a615b" transform="translate(5.5 6) rotate(60)" d="M-5.5,0 C-2,-4 2,-4 5.5,0 C2,4 -2,4 -5.5,0 Z"/>
</g>
<g transform="translate(212.5 241)">
<g mask="url(#treemask)" stroke="#42584f" stroke-width="0.5" stroke-linejoin="round"><ellipse rx="22" ry="19" fill="#3a6656"/><path fill="#4a615b" transform="translate(16.01 5.01) rotate(39.46)" d="M-5,0 C-1.67,-5.04 1.67,-5.04 5,0 C1.67,5.04 -1.67,5.04 -5,0 Z"/><path fill="#4a615b" transform="translate(8.11 12.82) rotate(80.8)" d="M-5,0 C-1.67,-5.04 1.67,-5.04 5,0 C1.67,5.04 -1.67,5.04 -5,0 Z"/><path fill="#4a615b" transform="translate(2.4 14.42) rotate(79.15)" d="M-5,0 C-1.67,-5.04 1.67,-5.04 5,0 C1.67,5.04 -1.67,5.04 -5,0 Z"/><path fill="#1f7a50" transform="translate(-10.63 11.39) rotate(160.63)" d="M-5,0 C-1.67,-5.04 1.67,-5.04 5,0 C1.67,5.04 -1.67,5.04 -5,0 Z"/><path fill="#1f7a50" transform="translate(-16.17 4.63) rotate(141.19)" d="M-5,0 C-1.67,-5.04 1.67,-5.04 5,0 C1.67,5.04 -1.67,5.04 -5,0 Z"/><path fill="#1f7a50" transform="translate(-16.09 -4.81) rotate(160.32)" d="M-5,0 C-1.67,-5.04 1.67,-5.04 5,0 C1.67,5.04 -1.67,5.04 -5,0 Z"/><path fill="#4a615b" transform="translate(-10.91 -11.2) rotate(263.52)" d="M-5,0 C-1.67,-5.04 1.67,-5.04 5,0 C1.67,5.04 -1.67,5.04 -5,0 Z"/><path fill="#1f7a50" transform="translate(-1.74 -14.49) rotate(287.92)" d="M-5,0 C-1.67,-5.04 1.67,-5.04 5,0 C1.67,5.04 -1.67,5.04 -5,0 Z"/><path fill="#1f7a50" transform="translate(10.5 -11.48) rotate(278.15)" d="M-5,0 C-1.67,-5.04 1.67,-5.04 5,0 C1.67,5.04 -1.67,5.04 -5,0 Z"/><path fill="#1f7a50" transform="translate(16.7 -2.93) rotate(325.14)" d="M-5,0 C-1.67,-5.04 1.67,-5.04 5,0 C1.67,5.04 -1.67,5.04 -5,0 Z"/><path fill="#1f7a50" transform="translate(22.06 1.74) rotate(7.08)" d="M-5.81,0 C-1.94,-4.27 1.94,-4.27 5.81,0 C1.94,4.27 -1.94,4.27 -5.81,0 Z"/><path fill="#1f7a50" transform="translate(21.36 4.54) rotate(36.19)" d="M-5.91,0 C-1.97,-4.71 1.97,-4.71 5.91,0 C1.97,4.71 -1.97,4.71 -5.91,0 Z"/><path fill="#1f7a50" transform="translate(17.74 9.99) rotate(18.42)" d="M-4.75,0 C-1.58,-4.12 1.58,-4.12 4.75,0 C1.58,4.12 -1.58,4.12 -4.75,0 Z"/><path fill="#1f7a50" transform="translate(14.1 12.93) rotate(62.92)" d="M-5.52,0 C-1.84,-4.32 1.84,-4.32 5.52,0 C1.84,4.32 -1.84,4.32 -5.52,0 Z"/><path fill="#1f7a50" transform="translate(7.23 16.15) rotate(95.31)" d="M-5.22,0 C-1.74,-4.72 1.74,-4.72 5.22,0 C1.74,4.72 -1.74,4.72 -5.22,0 Z"/><path fill="#1f7a50" transform="translate(-1.09 17.83) rotate(85.32)" d="M-5.77,0 C-1.92,-3.98 1.92,-3.98 5.77,0 C1.92,3.98 -1.92,3.98 -5.77,0 Z"/><path fill="#4a615b" transform="translate(-5.01 18.88) rotate(86.19)" d="M-4.57,0 C-1.52,-4.16 1.52,-4.16 4.57,0 C1.52,4.16 -1.52,4.16 -4.57,0 Z"/><path fill="#4a615b" transform="translate(-13.69 12.84) rotate(136.89)" d="M-5.91,0 C-1.97,-4.33 1.97,-4.33 5.91,0 C1.97,4.33 -1.97,4.33 -5.91,0 Z"/><path fill="#4a615b" transform="translate(-16.85 11.76) rotate(116.08)" d="M-5.62,0 C-1.87,-4.82 1.87,-4.82 5.62,0 C1.87,4.82 -1.87,4.82 -5.62,0 Z"/><path fill="#4a615b" transform="translate(-21.11 7.26) rotate(150.74)" d="M-5.01,0 C-1.67,-4.62 1.67,-4.62 5.01,0 C1.67,4.62 -1.67,4.62 -5.01,0 Z"/><path fill="#1f7a50" transform="translate(-21.5 -0.16) rotate(-204.87)" d="M-4.97,0 C-1.66,-4.3 1.66,-4.3 4.97,0 C1.66,4.3 -1.66,4.3 -4.97,0 Z"/><path fill="#1f7a50" transform="translate(-18.98 -5.66) rotate(-133.37)" d="M-6,0 C-2,-4.13 2,-4.13 6,0 C2,4.13 -2,4.13 -6,0 Z"/><path fill="#1f7a50" transform="translate(-18.74 -10.78) rotate(-151.84)" d="M-4.86,0 C-1.62,-4.6 1.62,-4.6 4.86,0 C1.62,4.6 -1.62,4.6 -4.86,0 Z"/><path fill="#1f7a50" transform="translate(-13.93 -13.01) rotate(-115.28)" d="M-5.87,0 C-1.96,-4 1.96,-4 5.87,0 C1.96,4 -1.96,4 -5.87,0 Z"/><path fill="#1f7a50" transform="translate(-5.75 -17.07) rotate(-131.41)" d="M-5.92,0 C-1.97,-4.64 1.97,-4.64 5.92,0 C1.97,4.64 -1.97,4.64 -5.92,0 Z"/><path fill="#4a615b" transform="translate(-1.49 -17.26) rotate(-64.74)" d="M-5.77,0 C-1.92,-4.28 1.92,-4.28 5.77,0 C1.92,4.28 -1.92,4.28 -5.77,0 Z"/><path fill="#1f7a50" transform="translate(8.9 -16.83) rotate(-64.34)" d="M-5.18,0 C-1.73,-4.49 1.73,-4.49 5.18,0 C1.73,4.49 -1.73,4.49 -5.18,0 Z"/><path fill="#1f7a50" transform="translate(13.33 -15.77) rotate(-23.19)" d="M-4.72,0 C-1.57,-4.37 1.57,-4.37 4.72,0 C1.57,4.37 -1.57,4.37 -4.72,0 Z"/><path fill="#4a615b" transform="translate(17.51 -10.44) rotate(-14.92)" d="M-5.01,0 C-1.67,-4.06 1.67,-4.06 5.01,0 C1.67,4.06 -1.67,4.06 -5.01,0 Z"/><path fill="#4a615b" transform="translate(20.52 -5.96) rotate(-7.07)" d="M-5.68,0 C-1.89,-4.8 1.89,-4.8 5.68,0 C1.89,4.8 -1.89,4.8 -5.68,0 Z"/></g>
<path fill="#4a615b" transform="translate(-6.5 -6.5) rotate(30)" d="M-5,0 L-2,-2.5 L0,-1.8 L2,-2.5 L5,0 L2,2.5 L0,1.8 L-2,2.5 Z"/>
<path fill="#4a615b" transform="translate(5.5 6) rotate(60)" d="M-5.5,0 C-2,-4 2,-4 5.5,0 C2,4 -2,4 -5.5,0 Z"/>
</g>
<g transform="translate(279.75 241)">
<g mask="url(#treemask)" stroke="#42584f" stroke-width="0.5" stroke-linejoin="round"><ellipse rx="22" ry="19" fill="#3a6656"/><path fill="#4a615b" transform="translate(16.01 5.01) rotate(39.46)" d="M-5,0 C-1.67,-5.04 1.67,-5.04 5,0 C1.67,5.04 -1.67,5.04 -5,0 Z"/><path fill="#4a615b" transform="translate(8.11 12.82) rotate(80.8)" d="M-5,0 C-1.67,-5.04 1.67,-5.04 5,0 C1.67,5.04 -1.67,5.04 -5,0 Z"/><path fill="#4a615b" transform="translate(2.4 14.42) rotate(79.15)" d="M-5,0 C-1.67,-5.04 1.67,-5.04 5,0 C1.67,5.04 -1.67,5.04 -5,0 Z"/><path fill="#1f7a50" transform="translate(-10.63 11.39) rotate(160.63)" d="M-5,0 C-1.67,-5.04 1.67,-5.04 5,0 C1.67,5.04 -1.67,5.04 -5,0 Z"/><path fill="#1f7a50" transform="translate(-16.17 4.63) rotate(141.19)" d="M-5,0 C-1.67,-5.04 1.67,-5.04 5,0 C1.67,5.04 -1.67,5.04 -5,0 Z"/><path fill="#1f7a50" transform="translate(-16.09 -4.81) rotate(160.32)" d="M-5,0 C-1.67,-5.04 1.67,-5.04 5,0 C1.67,5.04 -1.67,5.04 -5,0 Z"/><path fill="#4a615b" transform="translate(-10.91 -11.2) rotate(263.52)" d="M-5,0 C-1.67,-5.04 1.67,-5.04 5,0 C1.67,5.04 -1.67,5.04 -5,0 Z"/><path fill="#1f7a50" transform="translate(-1.74 -14.49) rotate(287.92)" d="M-5,0 C-1.67,-5.04 1.67,-5.04 5,0 C1.67,5.04 -1.67,5.04 -5,0 Z"/><path fill="#1f7a50" transform="translate(10.5 -11.48) rotate(278.15)" d="M-5,0 C-1.67,-5.04 1.67,-5.04 5,0 C1.67,5.04 -1.67,5.04 -5,0 Z"/><path fill="#1f7a50" transform="translate(16.7 -2.93) rotate(325.14)" d="M-5,0 C-1.67,-5.04 1.67,-5.04 5,0 C1.67,5.04 -1.67,5.04 -5,0 Z"/><path fill="#1f7a50" transform="translate(22.06 1.74) rotate(7.08)" d="M-5.81,0 C-1.94,-4.27 1.94,-4.27 5.81,0 C1.94,4.27 -1.94,4.27 -5.81,0 Z"/><path fill="#1f7a50" transform="translate(21.36 4.54) rotate(36.19)" d="M-5.91,0 C-1.97,-4.71 1.97,-4.71 5.91,0 C1.97,4.71 -1.97,4.71 -5.91,0 Z"/><path fill="#1f7a50" transform="translate(17.74 9.99) rotate(18.42)" d="M-4.75,0 C-1.58,-4.12 1.58,-4.12 4.75,0 C1.58,4.12 -1.58,4.12 -4.75,0 Z"/><path fill="#1f7a50" transform="translate(14.1 12.93) rotate(62.92)" d="M-5.52,0 C-1.84,-4.32 1.84,-4.32 5.52,0 C1.84,4.32 -1.84,4.32 -5.52,0 Z"/><path fill="#1f7a50" transform="translate(7.23 16.15) rotate(95.31)" d="M-5.22,0 C-1.74,-4.72 1.74,-4.72 5.22,0 C1.74,4.72 -1.74,4.72 -5.22,0 Z"/><path fill="#1f7a50" transform="translate(-1.09 17.83) rotate(85.32)" d="M-5.77,0 C-1.92,-3.98 1.92,-3.98 5.77,0 C1.92,3.98 -1.92,3.98 -5.77,0 Z"/><path fill="#4a615b" transform="translate(-5.01 18.88) rotate(86.19)" d="M-4.57,0 C-1.52,-4.16 1.52,-4.16 4.57,0 C1.52,4.16 -1.52,4.16 -4.57,0 Z"/><path fill="#4a615b" transform="translate(-13.69 12.84) rotate(136.89)" d="M-5.91,0 C-1.97,-4.33 1.97,-4.33 5.91,0 C1.97,4.33 -1.97,4.33 -5.91,0 Z"/><path fill="#4a615b" transform="translate(-16.85 11.76) rotate(116.08)" d="M-5.62,0 C-1.87,-4.82 1.87,-4.82 5.62,0 C1.87,4.82 -1.87,4.82 -5.62,0 Z"/><path fill="#4a615b" transform="translate(-21.11 7.26) rotate(150.74)" d="M-5.01,0 C-1.67,-4.62 1.67,-4.62 5.01,0 C1.67,4.62 -1.67,4.62 -5.01,0 Z"/><path fill="#1f7a50" transform="translate(-21.5 -0.16) rotate(-204.87)" d="M-4.97,0 C-1.66,-4.3 1.66,-4.3 4.97,0 C1.66,4.3 -1.66,4.3 -4.97,0 Z"/><path fill="#1f7a50" transform="translate(-18.98 -5.66) rotate(-133.37)" d="M-6,0 C-2,-4.13 2,-4.13 6,0 C2,4.13 -2,4.13 -6,0 Z"/><path fill="#1f7a50" transform="translate(-18.74 -10.78) rotate(-151.84)" d="M-4.86,0 C-1.62,-4.6 1.62,-4.6 4.86,0 C1.62,4.6 -1.62,4.6 -4.86,0 Z"/><path fill="#1f7a50" transform="translate(-13.93 -13.01) rotate(-115.28)" d="M-5.87,0 C-1.96,-4 1.96,-4 5.87,0 C1.96,4 -1.96,4 -5.87,0 Z"/><path fill="#1f7a50" transform="translate(-5.75 -17.07) rotate(-131.41)" d="M-5.92,0 C-1.97,-4.64 1.97,-4.64 5.92,0 C1.97,4.64 -1.97,4.64 -5.92,0 Z"/><path fill="#4a615b" transform="translate(-1.49 -17.26) rotate(-64.74)" d="M-5.77,0 C-1.92,-4.28 1.92,-4.28 5.77,0 C1.92,4.28 -1.92,4.28 -5.77,0 Z"/><path fill="#1f7a50" transform="translate(8.9 -16.83) rotate(-64.34)" d="M-5.18,0 C-1.73,-4.49 1.73,-4.49 5.18,0 C1.73,4.49 -1.73,4.49 -5.18,0 Z"/><path fill="#1f7a50" transform="translate(13.33 -15.77) rotate(-23.19)" d="M-4.72,0 C-1.57,-4.37 1.57,-4.37 4.72,0 C1.57,4.37 -1.57,4.37 -4.72,0 Z"/><path fill="#4a615b" transform="translate(17.51 -10.44) rotate(-14.92)" d="M-5.01,0 C-1.67,-4.06 1.67,-4.06 5.01,0 C1.67,4.06 -1.67,4.06 -5.01,0 Z"/><path fill="#4a615b" transform="translate(20.52 -5.96) rotate(-7.07)" d="M-5.68,0 C-1.89,-4.8 1.89,-4.8 5.68,0 C1.89,4.8 -1.89,4.8 -5.68,0 Z"/></g>
<path fill="#4a615b" transform="translate(-6.5 -6.5) rotate(30)" d="M-5,0 L-2,-2.5 L0,-1.8 L2,-2.5 L5,0 L2,2.5 L0,1.8 L-2,2.5 Z"/>
<path fill="#4a615b" transform="translate(5.5 6) rotate(60)" d="M-5.5,0 C-2,-4 2,-4 5.5,0 C2,4 -2,4 -5.5,0 Z"/>
</g>
<g transform="translate(463.25 235.25)">
<g mask="url(#treemask)" stroke="#42584f" stroke-width="0.5" stroke-linejoin="round"><ellipse rx="22" ry="19" fill="#3a6656"/><path fill="#4a615b" transform="translate(16.01 5.01) rotate(39.46)" d="M-5,0 C-1.67,-5.04 1.67,-5.04 5,0 C1.67,5.04 -1.67,5.04 -5,0 Z"/><path fill="#4a615b" transform="translate(8.11 12.82) rotate(80.8)" d="M-5,0 C-1.67,-5.04 1.67,-5.04 5,0 C1.67,5.04 -1.67,5.04 -5,0 Z"/><path fill="#4a615b" transform="translate(2.4 14.42) rotate(79.15)" d="M-5,0 C-1.67,-5.04 1.67,-5.04 5,0 C1.67,5.04 -1.67,5.04 -5,0 Z"/><path fill="#1f7a50" transform="translate(-10.63 11.39) rotate(160.63)" d="M-5,0 C-1.67,-5.04 1.67,-5.04 5,0 C1.67,5.04 -1.67,5.04 -5,0 Z"/><path fill="#1f7a50" transform="translate(-16.17 4.63) rotate(141.19)" d="M-5,0 C-1.67,-5.04 1.67,-5.04 5,0 C1.67,5.04 -1.67,5.04 -5,0 Z"/><path fill="#1f7a50" transform="translate(-16.09 -4.81) rotate(160.32)" d="M-5,0 C-1.67,-5.04 1.67,-5.04 5,0 C1.67,5.04 -1.67,5.04 -5,0 Z"/><path fill="#4a615b" transform="translate(-10.91 -11.2) rotate(263.52)" d="M-5,0 C-1.67,-5.04 1.67,-5.04 5,0 C1.67,5.04 -1.67,5.04 -5,0 Z"/><path fill="#1f7a50" transform="translate(-1.74 -14.49) rotate(287.92)" d="M-5,0 C-1.67,-5.04 1.67,-5.04 5,0 C1.67,5.04 -1.67,5.04 -5,0 Z"/><path fill="#1f7a50" transform="translate(10.5 -11.48) rotate(278.15)" d="M-5,0 C-1.67,-5.04 1.67,-5.04 5,0 C1.67,5.04 -1.67,5.04 -5,0 Z"/><path fill="#1f7a50" transform="translate(16.7 -2.93) rotate(325.14)" d="M-5,0 C-1.67,-5.04 1.67,-5.04 5,0 C1.67,5.04 -1.67,5.04 -5,0 Z"/><path fill="#1f7a50" transform="translate(22.06 1.74) rotate(7.08)" d="M-5.81,0 C-1.94,-4.27 1.94,-4.27 5.81,0 C1.94,4.27 -1.94,4.27 -5.81,0 Z"/><path fill="#1f7a50" transform="translate(21.36 4.54) rotate(36.19)" d="M-5.91,0 C-1.97,-4.71 1.97,-4.71 5.91,0 C1.97,4.71 -1.97,4.71 -5.91,0 Z"/><path fill="#1f7a50" transform="translate(17.74 9.99) rotate(18.42)" d="M-4.75,0 C-1.58,-4.12 1.58,-4.12 4.75,0 C1.58,4.12 -1.58,4.12 -4.75,0 Z"/><path fill="#1f7a50" transform="translate(14.1 12.93) rotate(62.92)" d="M-5.52,0 C-1.84,-4.32 1.84,-4.32 5.52,0 C1.84,4.32 -1.84,4.32 -5.52,0 Z"/><path fill="#1f7a50" transform="translate(7.23 16.15) rotate(95.31)" d="M-5.22,0 C-1.74,-4.72 1.74,-4.72 5.22,0 C1.74,4.72 -1.74,4.72 -5.22,0 Z"/><path fill="#1f7a50" transform="translate(-1.09 17.83) rotate(85.32)" d="M-5.77,0 C-1.92,-3.98 1.92,-3.98 5.77,0 C1.92,3.98 -1.92,3.98 -5.77,0 Z"/><path fill="#4a615b" transform="translate(-5.01 18.88) rotate(86.19)" d="M-4.57,0 C-1.52,-4.16 1.52,-4.16 4.57,0 C1.52,4.16 -1.52,4.16 -4.57,0 Z"/><path fill="#4a615b" transform="translate(-13.69 12.84) rotate(136.89)" d="M-5.91,0 C-1.97,-4.33 1.97,-4.33 5.91,0 C1.97,4.33 -1.97,4.33 -5.91,0 Z"/><path fill="#4a615b" transform="translate(-16.85 11.76) rotate(116.08)" d="M-5.62,0 C-1.87,-4.82 1.87,-4.82 5.62,0 C1.87,4.82 -1.87,4.82 -5.62,0 Z"/><path fill="#4a615b" transform="translate(-21.11 7.26) rotate(150.74)" d="M-5.01,0 C-1.67,-4.62 1.67,-4.62 5.01,0 C1.67,4.62 -1.67,4.62 -5.01,0 Z"/><path fill="#1f7a50" transform="translate(-21.5 -0.16) rotate(-204.87)" d="M-4.97,0 C-1.66,-4.3 1.66,-4.3 4.97,0 C1.66,4.3 -1.66,4.3 -4.97,0 Z"/><path fill="#1f7a50" transform="translate(-18.98 -5.66) rotate(-133.37)" d="M-6,0 C-2,-4.13 2,-4.13 6,0 C2,4.13 -2,4.13 -6,0 Z"/><path fill="#1f7a50" transform="translate(-18.74 -10.78) rotate(-151.84)" d="M-4.86,0 C-1.62,-4.6 1.62,-4.6 4.86,0 C1.62,4.6 -1.62,4.6 -4.86,0 Z"/><path fill="#1f7a50" transform="translate(-13.93 -13.01) rotate(-115.28)" d="M-5.87,0 C-1.96,-4 1.96,-4 5.87,0 C1.96,4 -1.96,4 -5.87,0 Z"/><path fill="#1f7a50" transform="translate(-5.75 -17.07) rotate(-131.41)" d="M-5.92,0 C-1.97,-4.64 1.97,-4.64 5.92,0 C1.97,4.64 -1.97,4.64 -5.92,0 Z"/><path fill="#4a615b" transform="translate(-1.49 -17.26) rotate(-64.74)" d="M-5.77,0 C-1.92,-4.28 1.92,-4.28 5.77,0 C1.92,4.28 -1.92,4.28 -5.77,0 Z"/><path fill="#1f7a50" transform="translate(8.9 -16.83) rotate(-64.34)" d="M-5.18,0 C-1.73,-4.49 1.73,-4.49 5.18,0 C1.73,4.49 -1.73,4.49 -5.18,0 Z"/><path fill="#1f7a50" transform="translate(13.33 -15.77) rotate(-23.19)" d="M-4.72,0 C-1.57,-4.37 1.57,-4.37 4.72,0 C1.57,4.37 -1.57,4.37 -4.72,0 Z"/><path fill="#4a615b" transform="translate(17.51 -10.44) rotate(-14.92)" d="M-5.01,0 C-1.67,-4.06 1.67,-4.06 5.01,0 C1.67,4.06 -1.67,4.06 -5.01,0 Z"/><path fill="#4a615b" transform="translate(20.52 -5.96) rotate(-7.07)" d="M-5.68,0 C-1.89,-4.8 1.89,-4.8 5.68,0 C1.89,4.8 -1.89,4.8 -5.68,0 Z"/></g>
<path fill="#4a615b" transform="translate(-6.5 -6.5) rotate(30)" d="M-5,0 L-2,-2.5 L0,-1.8 L2,-2.5 L5,0 L2,2.5 L0,1.8 L-2,2.5 Z"/>
<path fill="#4a615b" transform="translate(5.5 6) rotate(60)" d="M-5.5,0 C-2,-4 2,-4 5.5,0 C2,4 -2,4 -5.5,0 Z"/>
</g>
<g transform="translate(528 234.75)">
<g mask="url(#treemask)" stroke="#42584f" stroke-width="0.5" stroke-linejoin="round"><ellipse rx="22" ry="19" fill="#3a6656"/><path fill="#4a615b" transform="translate(16.01 5.01) rotate(39.46)" d="M-5,0 C-1.67,-5.04 1.67,-5.04 5,0 C1.67,5.04 -1.67,5.04 -5,0 Z"/><path fill="#4a615b" transform="translate(8.11 12.82) rotate(80.8)" d="M-5,0 C-1.67,-5.04 1.67,-5.04 5,0 C1.67,5.04 -1.67,5.04 -5,0 Z"/><path fill="#4a615b" transform="translate(2.4 14.42) rotate(79.15)" d="M-5,0 C-1.67,-5.04 1.67,-5.04 5,0 C1.67,5.04 -1.67,5.04 -5,0 Z"/><path fill="#1f7a50" transform="translate(-10.63 11.39) rotate(160.63)" d="M-5,0 C-1.67,-5.04 1.67,-5.04 5,0 C1.67,5.04 -1.67,5.04 -5,0 Z"/><path fill="#1f7a50" transform="translate(-16.17 4.63) rotate(141.19)" d="M-5,0 C-1.67,-5.04 1.67,-5.04 5,0 C1.67,5.04 -1.67,5.04 -5,0 Z"/><path fill="#1f7a50" transform="translate(-16.09 -4.81) rotate(160.32)" d="M-5,0 C-1.67,-5.04 1.67,-5.04 5,0 C1.67,5.04 -1.67,5.04 -5,0 Z"/><path fill="#4a615b" transform="translate(-10.91 -11.2) rotate(263.52)" d="M-5,0 C-1.67,-5.04 1.67,-5.04 5,0 C1.67,5.04 -1.67,5.04 -5,0 Z"/><path fill="#1f7a50" transform="translate(-1.74 -14.49) rotate(287.92)" d="M-5,0 C-1.67,-5.04 1.67,-5.04 5,0 C1.67,5.04 -1.67,5.04 -5,0 Z"/><path fill="#1f7a50" transform="translate(10.5 -11.48) rotate(278.15)" d="M-5,0 C-1.67,-5.04 1.67,-5.04 5,0 C1.67,5.04 -1.67,5.04 -5,0 Z"/><path fill="#1f7a50" transform="translate(16.7 -2.93) rotate(325.14)" d="M-5,0 C-1.67,-5.04 1.67,-5.04 5,0 C1.67,5.04 -1.67,5.04 -5,0 Z"/><path fill="#1f7a50" transform="translate(22.06 1.74) rotate(7.08)" d="M-5.81,0 C-1.94,-4.27 1.94,-4.27 5.81,0 C1.94,4.27 -1.94,4.27 -5.81,0 Z"/><path fill="#1f7a50" transform="translate(21.36 4.54) rotate(36.19)" d="M-5.91,0 C-1.97,-4.71 1.97,-4.71 5.91,0 C1.97,4.71 -1.97,4.71 -5.91,0 Z"/><path fill="#1f7a50" transform="translate(17.74 9.99) rotate(18.42)" d="M-4.75,0 C-1.58,-4.12 1.58,-4.12 4.75,0 C1.58,4.12 -1.58,4.12 -4.75,0 Z"/><path fill="#1f7a50" transform="translate(14.1 12.93) rotate(62.92)" d="M-5.52,0 C-1.84,-4.32 1.84,-4.32 5.52,0 C1.84,4.32 -1.84,4.32 -5.52,0 Z"/><path fill="#1f7a50" transform="translate(7.23 16.15) rotate(95.31)" d="M-5.22,0 C-1.74,-4.72 1.74,-4.72 5.22,0 C1.74,4.72 -1.74,4.72 -5.22,0 Z"/><path fill="#1f7a50" transform="translate(-1.09 17.83) rotate(85.32)" d="M-5.77,0 C-1.92,-3.98 1.92,-3.98 5.77,0 C1.92,3.98 -1.92,3.98 -5.77,0 Z"/><path fill="#4a615b" transform="translate(-5.01 18.88) rotate(86.19)" d="M-4.57,0 C-1.52,-4.16 1.52,-4.16 4.57,0 C1.52,4.16 -1.52,4.16 -4.57,0 Z"/><path fill="#4a615b" transform="translate(-13.69 12.84) rotate(136.89)" d="M-5.91,0 C-1.97,-4.33 1.97,-4.33 5.91,0 C1.97,4.33 -1.97,4.33 -5.91,0 Z"/><path fill="#4a615b" transform="translate(-16.85 11.76) rotate(116.08)" d="M-5.62,0 C-1.87,-4.82 1.87,-4.82 5.62,0 C1.87,4.82 -1.87,4.82 -5.62,0 Z"/><path fill="#4a615b" transform="translate(-21.11 7.26) rotate(150.74)" d="M-5.01,0 C-1.67,-4.62 1.67,-4.62 5.01,0 C1.67,4.62 -1.67,4.62 -5.01,0 Z"/><path fill="#1f7a50" transform="translate(-21.5 -0.16) rotate(-204.87)" d="M-4.97,0 C-1.66,-4.3 1.66,-4.3 4.97,0 C1.66,4.3 -1.66,4.3 -4.97,0 Z"/><path fill="#1f7a50" transform="translate(-18.98 -5.66) rotate(-133.37)" d="M-6,0 C-2,-4.13 2,-4.13 6,0 C2,4.13 -2,4.13 -6,0 Z"/><path fill="#1f7a50" transform="translate(-18.74 -10.78) rotate(-151.84)" d="M-4.86,0 C-1.62,-4.6 1.62,-4.6 4.86,0 C1.62,4.6 -1.62,4.6 -4.86,0 Z"/><path fill="#1f7a50" transform="translate(-13.93 -13.01) rotate(-115.28)" d="M-5.87,0 C-1.96,-4 1.96,-4 5.87,0 C1.96,4 -1.96,4 -5.87,0 Z"/><path fill="#1f7a50" transform="translate(-5.75 -17.07) rotate(-131.41)" d="M-5.92,0 C-1.97,-4.64 1.97,-4.64 5.92,0 C1.97,4.64 -1.97,4.64 -5.92,0 Z"/><path fill="#4a615b" transform="translate(-1.49 -17.26) rotate(-64.74)" d="M-5.77,0 C-1.92,-4.28 1.92,-4.28 5.77,0 C1.92,4.28 -1.92,4.28 -5.77,0 Z"/><path fill="#1f7a50" transform="translate(8.9 -16.83) rotate(-64.34)" d="M-5.18,0 C-1.73,-4.49 1.73,-4.49 5.18,0 C1.73,4.49 -1.73,4.49 -5.18,0 Z"/><path fill="#1f7a50" transform="translate(13.33 -15.77) rotate(-23.19)" d="M-4.72,0 C-1.57,-4.37 1.57,-4.37 4.72,0 C1.57,4.37 -1.57,4.37 -4.72,0 Z"/><path fill="#4a615b" transform="translate(17.51 -10.44) rotate(-14.92)" d="M-5.01,0 C-1.67,-4.06 1.67,-4.06 5.01,0 C1.67,4.06 -1.67,4.06 -5.01,0 Z"/><path fill="#4a615b" transform="translate(20.52 -5.96) rotate(-7.07)" d="M-5.68,0 C-1.89,-4.8 1.89,-4.8 5.68,0 C1.89,4.8 -1.89,4.8 -5.68,0 Z"/></g>
<path fill="#4a615b" transform="translate(-6.5 -6.5) rotate(30)" d="M-5,0 L-2,-2.5 L0,-1.8 L2,-2.5 L5,0 L2,2.5 L0,1.8 L-2,2.5 Z"/>
<path fill="#4a615b" transform="translate(5.5 6) rotate(60)" d="M-5.5,0 C-2,-4 2,-4 5.5,0 C2,4 -2,4 -5.5,0 Z"/>
</g>

<!-- hatched walls -->
<g fill="url(#hatch)" stroke="#4d4d4d" stroke-width="1.15">
<path d="M295.5,279.6 C320,281 340,281.7 360,281.5 C380,281.2 395,280.6 405.5,280 L405.5,264.3 L433.75,264.3 L433.75,281.75 L427.5,281.75 L427.5,270.8 L411.7,270.8 L411.7,286 C395,286.6 370,287.5 350,287.5 C330,287.3 310,286 295.5,285.2 Z"/>
<path d="M247,341.5 L255,342 L255,363 L287,364 L287,346 L293,346.5 L293,370 L247,370 Z"/>
<path d="M348.5,349 C400,349 430,346 458,341.5 L458,347 C430,352 400,355 348.5,355.4 Z"/>
</g>

<!-- black marker -->
<rect x="298.6" y="343.2" width="11" height="21" fill="#161616" transform="rotate(3.5 304 353.5)"/>
<circle cx="346" cy="268.4" r="6.4" fill="#1a1a1a"/>

<g stroke="#1e1e1e" stroke-width="1.3" fill="none">
<path d="M344.7,121.3 L416.7,121.5"/>
<path d="M349.7,112.5 L349.7,127"/>
<path d="M346.7,126.7 L353.3,117.5"/>
<path d="M409,113 L409,127"/>
<path d="M406,126.7 L412.6,117.5"/>
<path d="M336.7,259.2 L274.2,340"/>
<path d="M329,255.8 L340.8,262.5"/>
<path d="M335,254 L338,266.7"/>
<path d="M267.5,335 L281.7,345.8"/>
<path d="M274,333 L275,346.7"/>
<path d="M359.7,261.9 L372.5,350"/>
<path d="M354,262 L369,263"/>
<path d="M357.8,260 L365,267.4"/>
<path d="M365,345.3 L381.7,350"/>
<path d="M368,351 L378,344"/>
</g>

<!-- bridges -->
<g stroke="#666" stroke-width="4" fill="none" stroke-linejoin="miter">
<path d="M70,290 L80,291.5 Q91,283 102.5,276 L102,267"/>
<path d="M116.5,353.5 L117,345.5 Q127,335 141,328 L148.5,331"/>
</g>

<!-- embankments -->
<path d="M41.7,205 L91.7,265 M42.34,205.77 L39.34,208.26 M45.86,209.99 L42.87,212.49 M49.38,214.22 L46.39,216.72 M52.9,218.44 L49.91,220.94 M56.42,222.67 L53.43,225.17 M59.95,226.89 L56.95,229.39 M63.47,231.12 L60.47,233.62 M66.99,235.34 L63.99,237.84 M70.51,239.57 L67.51,242.07 M74.03,243.8 L71.03,246.29 M77.55,248.02 L74.55,250.52 M81.07,252.25 L78.08,254.74 M84.59,256.47 L81.6,258.97 M88.11,260.7 L85.12,263.19 M22.5,219 L74,281.7 M23.13,219.77 L26.15,217.3 M26.63,224.02 L29.64,221.55 M30.12,228.27 L33.13,225.8 M33.61,232.52 L36.62,230.05 M37.1,236.77 L40.11,234.3 M40.59,241.02 L43.6,238.55 M44.08,245.27 L47.09,242.8 M47.57,249.52 L50.58,247.05 M51.06,253.77 L54.08,251.3 M54.55,258.02 L57.57,255.55 M58.04,262.27 L61.06,259.8 M61.53,266.52 L64.55,264.05 M65.03,270.77 L68.04,268.3 M68.52,275.02 L71.53,272.55 M72.01,279.27 L75.02,276.8 M145.5,337.5 L195.8,400 M146.13,338.28 L143.09,340.72 M149.58,342.56 L146.54,345.01 M153.02,346.85 L149.99,349.29 M156.47,351.13 L153.43,353.58 M159.92,355.42 L156.88,357.86 M163.37,359.7 L160.33,362.15 M166.82,363.99 L163.78,366.43 M170.27,368.27 L167.23,370.72 M173.71,372.56 L170.68,375 M177.16,376.84 L174.12,379.29 M180.61,381.13 L177.57,383.57 M184.06,385.41 L181.02,387.86 M187.51,389.7 L184.47,392.14 M190.96,393.98 L187.92,396.43 M194.4,398.27 L191.37,400.71 M126.7,353.3 L177.5,415.8 M127.33,354.08 L130.36,351.62 M130.8,358.34 L133.83,355.88 M134.27,362.61 L137.3,360.15 M137.74,366.88 L140.76,364.42 M141.21,371.15 L144.23,368.69 M144.68,375.42 L147.7,372.96 M148.14,379.68 L151.17,377.22 M151.61,383.95 L154.64,381.49 M155.08,388.22 L158.11,385.76 M158.55,392.49 L161.58,390.03 M162.02,396.76 L165.05,394.3 M165.49,401.02 L168.52,398.56 M168.96,405.29 L171.99,402.83 M172.43,409.56 L175.45,407.1 M175.9,413.83 L178.92,411.37" stroke="#435a55" stroke-width="2.0" fill="none" stroke-linecap="round"/>
<path d="M38.31,207.18 L40.23,209.48 L42.34,205.77 Z M41.83,211.4 L43.75,213.71 L45.86,209.99 Z M45.35,215.63 L47.27,217.93 L49.38,214.22 Z M48.87,219.85 L50.79,222.16 L52.9,218.44 Z M52.39,224.08 L54.31,226.38 L56.42,222.67 Z M55.91,228.3 L57.83,230.61 L59.95,226.89 Z M59.43,232.53 L61.35,234.83 L63.47,231.12 Z M62.95,236.75 L64.87,239.06 L66.99,235.34 Z M66.48,240.98 L68.4,243.28 L70.51,239.57 Z M70,245.2 L71.92,247.51 L74.03,243.8 Z M73.52,249.43 L75.44,251.73 L77.55,248.02 Z M77.04,253.65 L78.96,255.96 L81.07,252.25 Z M80.56,257.88 L82.48,260.18 L84.59,256.47 Z M84.08,262.1 L86,264.41 L88.11,260.7 Z M25.27,216.07 L27.18,218.39 L23.13,219.77 Z M28.76,220.32 L30.67,222.64 L26.63,224.02 Z M32.26,224.57 L34.16,226.89 L30.12,228.27 Z M35.75,228.83 L37.65,231.14 L33.61,232.52 Z M39.24,233.08 L41.14,235.39 L37.1,236.77 Z M42.73,237.33 L44.63,239.64 L40.59,241.02 Z M46.22,241.58 L48.12,243.89 L44.08,245.27 Z M49.71,245.83 L51.61,248.14 L47.57,249.52 Z M53.2,250.08 L55.11,252.39 L51.06,253.77 Z M56.69,254.33 L58.6,256.64 L54.55,258.02 Z M60.18,258.58 L62.09,260.89 L58.04,262.27 Z M63.67,262.83 L65.58,265.14 L61.53,266.52 Z M67.16,267.08 L69.07,269.39 L65.03,270.77 Z M70.66,271.33 L72.56,273.64 L68.52,275.02 Z M74.15,275.58 L76.05,277.89 L72.01,279.27 Z M142.07,339.62 L143.95,341.96 L146.13,338.28 Z M145.52,343.9 L147.4,346.24 L149.58,342.56 Z M148.97,348.19 L150.85,350.52 L153.02,346.85 Z M152.42,352.47 L154.3,354.81 L156.47,351.13 Z M155.86,356.76 L157.74,359.09 L159.92,355.42 Z M159.31,361.04 L161.19,363.38 L163.37,359.7 Z M162.76,365.33 L164.64,367.66 L166.82,363.99 Z M166.21,369.61 L168.09,371.95 L170.27,368.27 Z M169.66,373.9 L171.54,376.23 L173.71,372.56 Z M173.11,378.18 L174.99,380.52 L177.16,376.84 Z M176.55,382.47 L178.43,384.8 L180.61,381.13 Z M180,386.75 L181.88,389.09 L184.06,385.41 Z M183.45,391.04 L185.33,393.37 L187.51,389.7 Z M186.9,395.32 L188.78,397.66 L190.96,393.98 Z M190.35,399.6 L192.23,401.94 L194.4,398.27 Z M129.49,350.39 L131.38,352.72 L127.33,354.08 Z M132.96,354.66 L134.85,356.99 L130.8,358.34 Z M136.43,358.93 L138.32,361.25 L134.27,362.61 Z M139.9,363.19 L141.79,365.52 L137.74,366.88 Z M143.36,367.46 L145.26,369.79 L141.21,371.15 Z M146.83,371.73 L148.73,374.06 L144.68,375.42 Z M150.3,376 L152.2,378.33 L148.14,379.68 Z M153.77,380.27 L155.66,382.59 L151.61,383.95 Z M157.24,384.53 L159.13,386.86 L155.08,388.22 Z M160.71,388.8 L162.6,391.13 L158.55,392.49 Z M164.18,393.07 L166.07,395.4 L162.02,396.76 Z M167.65,397.34 L169.54,399.67 L165.49,401.02 Z M171.12,401.61 L173.01,403.93 L168.96,405.29 Z M174.59,405.87 L176.48,408.2 L172.43,409.56 Z M178.06,410.14 L179.95,412.47 L175.9,413.83 Z" fill="#435a55" stroke="#435a55" stroke-width="0.7" stroke-linejoin="round"/>

<!-- purple arrow -->
<path d="M158.1,367.5 C163.5,369.5 167.5,375 169.8,383 C172,391 173.5,399 177.5,404.5 C182,410.5 187.5,414 195,417.5" fill="none" stroke="#2b1b72" stroke-width="3.4"/>
<path d="M207,430 L187.3,419.6 L194,415.5 L201.3,407.8 Z" fill="#2b1b72"/>

<!-- arrows -->
<g stroke="#111" stroke-width="1.7" fill="none">
<path d="M95,383.5 L95,478"/>
<path d="M459,325 L550,317"/>
</g>
<path d="M94.5,493 L86,473 L95,476.5 L103.5,473 Z" fill="#111"/>
<path d="M567.5,315.4 L547.2,309 L550.3,317 L548.4,326 Z" fill="#111"/>

<!-- texts -->
<g fill="#1a1a1a">
<text x="366.4" y="115.7" font-size="15">8.80</text>
<text transform="translate(348,252) skewX(-8)" font-size="24">CSO</text>
<text x="262.6" y="307.9" font-size="15">16.40</text>
<text x="369.4" y="315" font-size="15">9.60</text>
<text x="299" y="390.7" font-size="21.8">Km 16.900</text>
<text transform="translate(120,301.3) rotate(8.8)" font-size="28.5" font-style="italic">Ex S.S.64</text>
<text transform="translate(428.8,317.8) rotate(-4.1)" font-size="29.5" font-style="italic">Bologna</text>
<text transform="translate(82.6,457.5) rotate(-90)" font-size="30" font-style="italic">Firenze</text>
</g>
</svg>
</body></html>
